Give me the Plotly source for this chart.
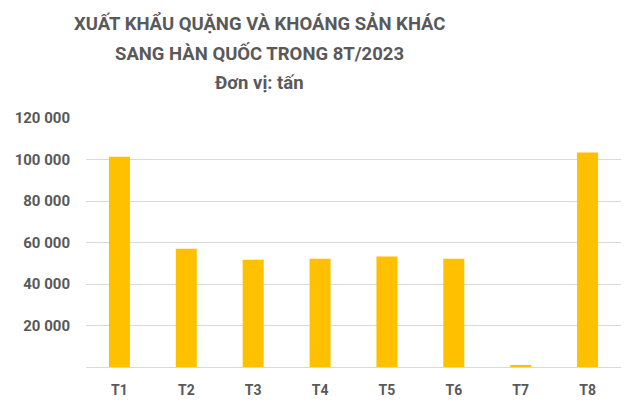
import plotly.graph_objects as go

categories = ["T1", "T2", "T3", "T4", "T5", "T6", "T7", "T8"]
values = [101300, 57000, 51700, 52200, 53300, 52200, 800, 103400]
y_tick_vals = [20000, 40000, 60000, 80000, 100000, 120000]
y_tick_text = ["20 000", "40 000", "60 000", "80 000", "100 000", "120 000"]
title_lines = ["XUẤT KHẨU QUẶNG VÀ KHOÁNG SẢN KHÁC",
               "SANG HÀN QUỐC TRONG 8T/2023",
               "Đơn vị: tấn"]

# page body adds an 8px offset; figure is sized to fit the window
OFF = 8
W, H = 638 - OFF, 407 - OFF
L, T = 86 - OFF, 118 - OFF
R = W - (621 - OFF)
B = H - (367 - OFF)
ph = H - T - B
pw = W - L - R

fig = go.Figure(go.Bar(x=categories, y=values, marker_color="#FFC000",
                       marker_line_width=0))

title_centers_px = [23, 53, 83]
for line, yc in zip(title_lines, title_centers_px):
    fig.add_annotation(text="<b>%s</b>" % line, xref="paper", yref="paper",
                       x=(259 - 86) / pw, y=(367 - yc) / ph,
                       xanchor="center", yanchor="middle", showarrow=False,
                       font=dict(family="Roboto", size=18.5, color="#595959"))

fig.update_layout(
    width=W, height=H,
    paper_bgcolor="white", plot_bgcolor="white",
    margin=dict(l=L, r=R, t=T, b=B, autoexpand=False),
    bargap=0.686,
    showlegend=False,
    font=dict(family="Roboto", color="#595959"),
)
fig.update_yaxes(range=[0, 120000], tickvals=y_tick_vals, ticktext=y_tick_text,
                 showgrid=True, gridcolor="#D9D9D9", gridwidth=1,
                 zeroline=True, zerolinecolor="#D9D9D9", zerolinewidth=1,
                 tickfont=dict(size=15, color="#595959", weight="bold"),
                 ticks="", ticklabelstandoff=15, automargin=False)
fig.update_xaxes(showgrid=False, showline=False, ticks="", automargin=False,
                 tickfont=dict(size=14, color="#595959", weight="bold"),
                 ticklabelstandoff=13)

fig.write_html("out.html")
